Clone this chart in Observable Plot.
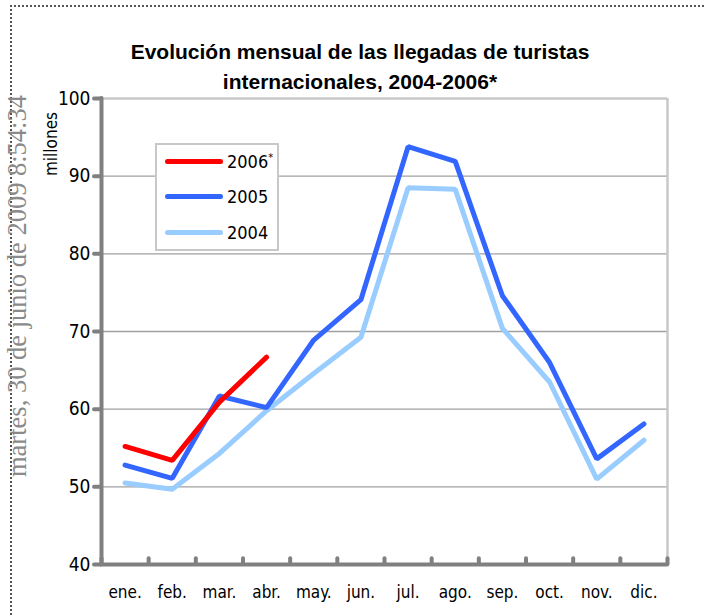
<!DOCTYPE html>
<html><head><meta charset="utf-8">
<script src="https://cdn.jsdelivr.net/npm/d3@7"></script>
<script src="https://cdn.jsdelivr.net/npm/@observablehq/plot@0.6"></script>
<style>
body{margin:0;background:#fff;}
#wrap{position:relative;width:704px;height:616px;overflow:hidden;font-family:"Liberation Sans",Arial,sans-serif;}
#border{position:absolute;left:10px;top:5px;width:720px;height:640px;border-top:2px dotted #555;border-left:2px dotted #555;}
#title{position:absolute;left:0;width:720px;top:37px;text-align:center;font-weight:bold;font-size:21px;line-height:30px;color:#000;}
#wm{position:absolute;left:17px;top:286px;transform:translate(-50%,-50%) rotate(-90deg);white-space:nowrap;font-family:"Liberation Serif","Times New Roman",serif;font-size:26.5px;color:#8a8a8a;}
#units{position:absolute;left:51px;top:144px;transform:translate(-50%,-50%) rotate(-90deg);white-space:nowrap;font-family:"Liberation Sans Narrow","Arial Narrow","DejaVu Sans Condensed",sans-serif;font-size:17px;color:#000;}
#legend{position:absolute;left:155px;top:143px;width:124px;height:108px;border:2px solid #c8c8c8;background:#fff;box-sizing:border-box;}
.li{position:absolute;left:8px;height:24px;display:flex;align-items:center;font-family:"Liberation Sans Narrow","Arial Narrow","DejaVu Sans Condensed",sans-serif;font-size:18px;color:#000;}
.sw{width:58px;height:5px;border-radius:3px;margin-right:4px;}
</style></head>
<body><div id="wrap"><div id="chart"></div><div id="border"></div><div id="wm"></div><div id="title"></div><div id="units"></div><div id="legend"></div></div>
<script>
const months = ["ene.","feb.","mar.","abr.","may.","jun.","jul.","ago.","sep.","oct.","nov.","dic."];
const series = ["2006*","2005","2004"];
const colors = ["#ff0000","#3366ff","#99ccff"];
const v2006 = [55.2,53.4,60.9,66.7];
const v2005 = [52.8,51.1,61.7,60.2,68.9,74.1,93.8,91.9,74.6,66.0,53.6,58.1];
const v2004 = [50.5,49.7,54.3,59.8,64.6,69.25,88.5,88.3,70.4,63.5,51.0,56.0];
const yTicks = [40,50,60,70,80,90,100];
const titleLines = ["Evolución mensual de las llegadas de turistas","internacionales, 2004-2006*"];
const unitsLabel = "millones";
const watermark = "martes, 30 de junio de 2009 8:54:34";

const rows = [];
[v2004, v2005, v2006].forEach((vals, k) => {
  const s = series[2 - k];
  vals.forEach((v, i) => rows.push({series: s, i, value: v}));
});
const boundaries = d3.range(-0.5, months.length, 1);
const narrow = '"Liberation Sans Narrow","Arial Narrow","DejaVu Sans Condensed",sans-serif';

const chart = Plot.plot({
  width: 704, height: 616,
  marginLeft: 101, marginRight: 37, marginTop: 98, marginBottom: 52,
  style: {fontFamily: narrow, color: "#000", background: "transparent"},
  x: {domain: [-0.5, months.length - 0.5], axis: null},
  y: {domain: [40, 100], axis: null},
  color: {domain: series, range: colors},
  marks: [
    Plot.ruleY(yTicks.filter(t => t > 40 && t < 100), {stroke: "#a0a0a0", strokeWidth: 1.3}),
    Plot.ruleY([100], {stroke: "#c8c8c8", strokeWidth: 2.5}),
    Plot.ruleX([months.length - 0.5], {y1: 40, y2: 100, stroke: "#c8c8c8", strokeWidth: 2.5}),
    Plot.axisY({ticks: yTicks, label: null, tickSize: 7, tickPadding: 4, fontSize: 19, stroke: "#808080", strokeWidth: 4, strokeLinecap: "round"}),
    Plot.axisX({ticks: d3.range(months.length), label: null, tickFormat: i => months[i], tickSize: 0, tickPadding: 21, fontSize: 17}),
    Plot.ruleX(boundaries, {y1: 40, y2: 40.75, stroke: "#808080", strokeWidth: 4, strokeLinecap: "round"}),
    Plot.ruleX([-0.5], {y1: 40, y2: 100, stroke: "#808080", strokeWidth: 4, strokeLinecap: "round"}),
    Plot.ruleY([40], {x1: -0.5, x2: months.length - 0.5, stroke: "#808080", strokeWidth: 4, strokeLinecap: "round"}),
    Plot.line(rows, {x: "i", y: "value", z: "series", stroke: "series", strokeWidth: 5, strokeLinecap: "round", strokeLinejoin: "miter"})
  ]
});
document.getElementById("chart").appendChild(chart);
document.getElementById("title").innerHTML = titleLines.join("<br>");
document.getElementById("units").textContent = unitsLabel;
document.getElementById("wm").textContent = watermark;
const lg = document.getElementById("legend");
series.forEach((s, k) => {
  const d = document.createElement("div");
  d.className = "li";
  d.style.top = (4 + k * 35.5) + "px";
  const sw = document.createElement("div");
  sw.className = "sw"; sw.style.background = colors[k];
  const t = document.createElement("span");
  t.innerHTML = s.replace("*", "<sup style='font-size:11px'>*</sup>");
  d.appendChild(sw); d.appendChild(t); lg.appendChild(d);
});
</script></body></html>
